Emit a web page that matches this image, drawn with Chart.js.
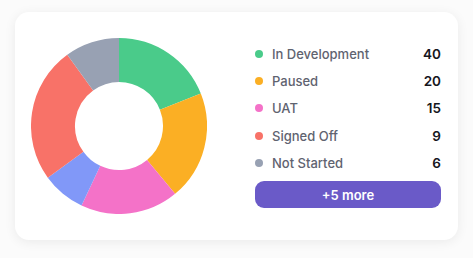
<!DOCTYPE html>
<html>
<head>
<meta charset="utf-8">
<script src="https://cdn.jsdelivr.net/npm/chart.js@4"></script>
<style>
  html, body { margin: 0; padding: 0; }
  body {
    width: 473px; height: 258px; background: #fbfbfb; position: relative; overflow: hidden;
    font-family: Inter, "Noto Sans", sans-serif;
  }
  .card {
    position: absolute; left: 15px; top: 12px; width: 443px; height: 228px;
    background: #fff; border-radius: 14px;
    box-shadow: 0 2px 12px rgba(0, 0, 0, 0.07);
  }
  .chart-box { position: absolute; left: 31px; top: 38px; width: 176px; height: 176px; }
  .legend { position: absolute; left: 255px; top: 40px; width: 186px; }
  .row { display: flex; align-items: center; height: 27.3px; font-size: 13px; }
  .dot { width: 8px; height: 8px; border-radius: 50%; margin-left: 0px; margin-right: 9px; }
  .label { color: #5f6370; font-weight: 500; flex: 1; }
  .value { color: #16161d; font-weight: 600; font-size: 13.5px; }
  .more {
    position: absolute; left: 255px; top: 181px; width: 186px; height: 27px;
    background: #6a5ac8; border-radius: 9px; color: #fff; font-weight: 600; font-size: 13px;
    display: flex; align-items: center; justify-content: center;
  }
</style>
</head>
<body>
<div class="card"></div>
<div class="chart-box"><canvas id="status-chart"></canvas></div>
<div class="legend" id="legend"></div>
<div class="more" id="more"></div>
<script>
// slices as drawn in the ring (approx. share)
const sliceLabels = ["In Development", "Paused", "UAT", "Other", "Signed Off", "Not Started"];
const sliceValues = [19, 20, 18, 8, 25, 10];
const sliceColors = ["#4acb8a", "#fbaf24", "#f472c8", "#8198f8", "#f87268", "#98a1b3"];

// legend list on the right
const legendLabels = ["In Development", "Paused", "UAT", "Signed Off", "Not Started"];
const legendValues = [40, 20, 15, 9, 6];
const legendColors = ["#4acb8a", "#fbaf24", "#f472c8", "#f87268", "#98a1b3"];
const moreCount = 5;

const legend = document.getElementById("legend");
legendLabels.forEach((name, i) => {
  const row = document.createElement("div");
  row.className = "row";
  row.innerHTML = `<span class="dot" style="background:${legendColors[i]}"></span>` +
    `<span class="label">${name}</span><span class="value">${legendValues[i]}</span>`;
  legend.appendChild(row);
});
document.getElementById("more").textContent = `+${moreCount} more`;

new Chart(document.getElementById("status-chart"), {
  type: "doughnut",
  data: {
    labels: sliceLabels,
    datasets: [{
      data: sliceValues,
      backgroundColor: sliceColors,
      borderWidth: 0
    }]
  },
  options: {
    responsive: true,
    maintainAspectRatio: false,
    animation: false,
    cutout: "50%",
    layout: { padding: 0 },
    plugins: {
      legend: { display: false },
      tooltip: { enabled: false }
    }
  }
});
</script>
</body>
</html>
